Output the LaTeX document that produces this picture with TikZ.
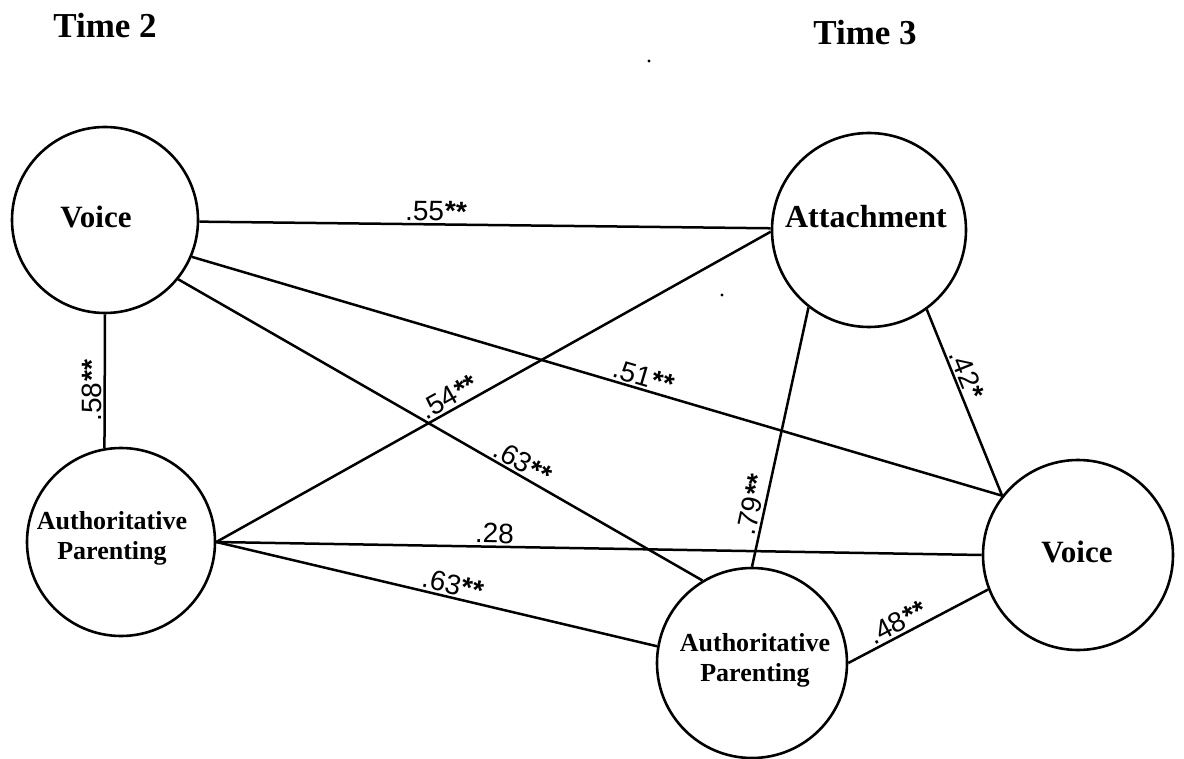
\documentclass[tikz,border=0pt]{standalone}
\usepackage{fontspec}
\setmainfont{Liberation Serif}
\newfontfamily\labfont{Liberation Sans}
\newcommand{\sg}[1]{\kern0.5pt{\bfseries #1}}
\begin{document}
\begin{tikzpicture}[x=0.5pt,y=-0.5pt,
  var/.style={circle,draw,line width=1.3pt,inner sep=0pt},
  conn/.style={line width=1.25pt},
  coef/.style={font=\labfont\fontsize{14}{16}\selectfont, inner sep=1pt, sloped, above},
  head/.style={font=\bfseries\fontsize{17.5}{20}\selectfont},
  vname/.style={font=\bfseries\fontsize{15.5}{18}\selectfont},
  pname/.style={font=\bfseries\fontsize{13}{15}\selectfont, align=center},
  speck/.style={circle,fill,inner sep=0pt,minimum size=1.6pt},
]
\useasboundingbox (0,0) rectangle (1184,759);
% headers
\node[head] (t2) at (105,26) {Time 2};
\node[head] (t3) at (865,33) {Time 3};
% circles
\node[var, minimum size=93pt] (v2) at (105,220) {};
\node[var, minimum size=94pt] (p2) at (121,542) {};
\node[var, minimum size=97pt] (a)  at (869,230) {};
\node[var, minimum size=95pt] (v3) at (1078,555) {};
\node[var, minimum size=95pt] (p3) at (752,663) {};
% names
\node[vname] (v2t) at (96,217) {Voice};
\node[pname] (p2t) at (112,538) {Authoritative\\Parenting};
\node[vname, font=\bfseries\fontsize{16}{18}\selectfont] (at) at (866,217) {Attachment};
\node[vname] (v3t) at (1077,552) {Voice};
\node[pname] (p3t) at (755,660) {Authoritative\\Parenting};
% specks
\node[speck] (s1) at (649,61) {};
\node[speck] (s2) at (722,295) {};
% connectors
\draw[conn] (v2.-1) -- node[coef, pos=0.414] {.55\sg{**}} (a.179);
\draw[conn] (p2.100) -- node[coef, pos=0.43] {.58\sg{**}} (v2.south);
\draw[conn] (v2.-23) -- node[coef, pos=0.553] {.51\sg{**}} (v3.142);
\draw[conn] (v2.-39) -- node[coef, pos=0.645] {.63\sg{**}} (p3.121);
\draw[conn] (p2.east) -- node[coef, pos=0.431] {.54\sg{**}} (a.181);
\draw[conn] (p2.east) -- node[coef, pos=0.363] {.28} (v3.west);
\draw[conn] (p2.east) -- node[coef, pos=0.53] {.63\sg{**}} (p3.170);
\draw[conn] (p3.north) -- node[coef, pos=0.228] {.79\sg{**}} (a.-128);
\draw[conn] (a.-54) -- node[coef, pos=0.376] {.42\sg{*}} (v3.142);
\draw[conn] (p3.east) -- node[coef, pos=0.392] {.48\sg{**}} (v3.201);
\end{tikzpicture}
\end{document}
